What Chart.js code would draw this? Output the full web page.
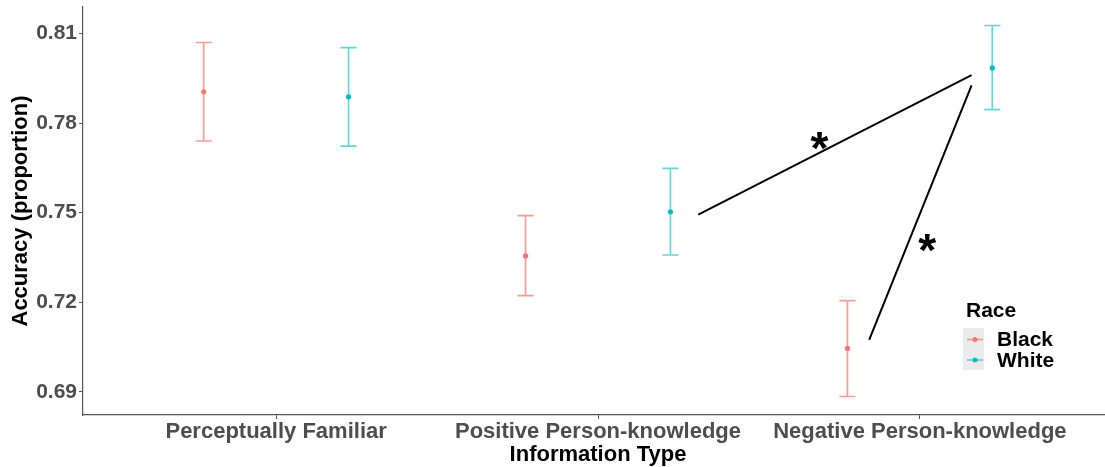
<!DOCTYPE html>
<html>
<head>
<meta charset="utf-8">
<script src="https://cdn.jsdelivr.net/npm/chart.js@4/dist/chart.umd.min.js"></script>
<style>
  html, body { margin: 0; padding: 0; overflow: hidden; background: #ffffff; }
  canvas { display: block; }
</style>
</head>
<body>
<canvas id="chart" width="1120" height="467"></canvas>
<script>
// Accuracy by information type and race (mean with error bars)
const categories = ['Perceptually Familiar', 'Positive Person-knowledge', 'Negative Person-knowledge'];
const races = ['Black', 'White'];

const blackMean  = [0.7905, 0.7355, 0.7045];
const blackLower = [0.7740, 0.7222, 0.6884];
const blackUpper = [0.8070, 0.7490, 0.7205];

const whiteMean  = [0.7888, 0.7503, 0.7985];
const whiteLower = [0.7723, 0.7358, 0.7845];
const whiteUpper = [0.8053, 0.7648, 0.8127];

const yTicks = [0.69, 0.72, 0.75, 0.78, 0.81];
const yTickLabels = ['0.69', '0.72', '0.75', '0.78', '0.81'];

// significance brackets (x in category units, y in accuracy) and their stars
const sigLineA = [{ x: 2.3115, y: 0.7493 }, { x: 3.1606, y: 0.7961 }];
const sigLineB = [{ x: 2.8425, y: 0.7074 }, { x: 3.1606, y: 0.7926 }];
const sigStars = [{ x: 2.688, y: 0.7740 }, { x: 3.023, y: 0.7397 }];

const DODGE = 0.225;
const CAP_HALF = 0.025;
const RED = '#F8766D';
const TEAL = '#00BFC4';
const RED_BAR = 'rgba(248,118,109,0.72)';
const TEAL_BAR = 'rgba(0,191,196,0.62)';
const FONT = '"Liberation Sans", Arial, Helvetica, sans-serif';

function pts(means, offset) {
  return means.map((m, i) => ({ x: i + 1 + offset, y: m }));
}

const errorBarPlugin = {
  id: 'errorBars',
  beforeDatasetsDraw(chart) {
    const { ctx, scales: { x, y } } = chart;
    const groups = [
      { mean: blackMean, lo: blackLower, hi: blackUpper, off: -DODGE, color: RED_BAR },
      { mean: whiteMean, lo: whiteLower, hi: whiteUpper, off: DODGE, color: TEAL_BAR }
    ];
    ctx.save();
    ctx.lineWidth = 1.7;
    groups.forEach(g => {
      ctx.strokeStyle = g.color;
      g.mean.forEach((m, i) => {
        const cx = i + 1 + g.off;
        const px = x.getPixelForValue(cx);
        const pl = x.getPixelForValue(cx - CAP_HALF);
        const pr = x.getPixelForValue(cx + CAP_HALF);
        const yl = y.getPixelForValue(g.lo[i]);
        const yh = y.getPixelForValue(g.hi[i]);
        ctx.beginPath();
        ctx.moveTo(px, yl); ctx.lineTo(px, yh);
        ctx.moveTo(pl, yl); ctx.lineTo(pr, yl);
        ctx.moveTo(pl, yh); ctx.lineTo(pr, yh);
        ctx.stroke();
      });
    });
    ctx.restore();
  },
  afterDatasetsDraw(chart) {
    const { ctx, scales: { x, y } } = chart;
    ctx.save();
    ctx.fillStyle = '#000000';
    ctx.font = 'bold 46px ' + FONT;
    ctx.textAlign = 'left';
    ctx.textBaseline = 'alphabetic';
    sigStars.forEach(s => {
      const m = ctx.measureText('*');
      const gw = m.actualBoundingBoxRight + m.actualBoundingBoxLeft;
      const gh = m.actualBoundingBoxAscent + m.actualBoundingBoxDescent;
      const px = x.getPixelForValue(s.x) - gw / 2 + m.actualBoundingBoxLeft;
      const py = y.getPixelForValue(s.y) + gh / 2 - m.actualBoundingBoxDescent;
      ctx.fillText('*', px, py);
    });
    ctx.restore();
  },
  afterDraw(chart) {
    // legend placed inside the panel
    const ctx = chart.ctx;
    ctx.save();
    ctx.fillStyle = '#000000';
    ctx.font = 'bold 21px ' + FONT;
    ctx.textBaseline = 'middle';
    ctx.textAlign = 'left';
    ctx.fillText('Race', 966, 311);
    ctx.fillStyle = '#EBEBEB';
    ctx.fillRect(963, 328, 21, 42);
    const keys = [{ label: races[0], bar: RED_BAR, dot: RED, cy: 339.5 },
                  { label: races[1], bar: TEAL_BAR, dot: TEAL, cy: 360 }];
    keys.forEach(k => {
      ctx.strokeStyle = k.bar;
      ctx.lineWidth = 1.6;
      ctx.beginPath();
      ctx.moveTo(967, k.cy); ctx.lineTo(983, k.cy);
      ctx.stroke();
      ctx.fillStyle = k.dot;
      ctx.beginPath();
      ctx.arc(975, k.cy, 2.5, 0, Math.PI * 2);
      ctx.fill();
      ctx.fillStyle = '#000000';
      ctx.font = 'bold 21px ' + FONT;
      ctx.fillText(k.label, 997, k.cy + 1);
    });
    ctx.restore();
  }
};

new Chart(document.getElementById('chart'), {
  type: 'scatter',
  data: {
    datasets: [
      { label: races[0], data: pts(blackMean, -DODGE), backgroundColor: RED, borderColor: RED,
        pointRadius: 2.6, pointBorderWidth: 0 },
      { label: races[1], data: pts(whiteMean, DODGE), backgroundColor: TEAL, borderColor: TEAL,
        pointRadius: 2.6, pointBorderWidth: 0 },
      { type: 'line', label: 'sigA', data: sigLineA, borderColor: '#000000', borderWidth: 2,
        pointRadius: 0, fill: false, showLine: true },
      { type: 'line', label: 'sigB', data: sigLineB, borderColor: '#000000', borderWidth: 2,
        pointRadius: 0, fill: false, showLine: true }
    ]
  },
  options: {
    responsive: false,
    devicePixelRatio: 1,
    animation: false,
    layout: { padding: { top: 7, right: 7, left: 0, bottom: 0 } },
    plugins: { legend: { display: false }, tooltip: { enabled: false } },
    scales: {
      x: {
        type: 'linear', min: 0.4, max: 3.6,
        afterBuildTicks: s => { s.ticks = categories.map((c, i) => ({ value: i + 1 })); },
        afterFit: s => { s.height = 52; s.paddingLeft = 0; s.paddingRight = 0; },
        ticks: {
          callback: (v, i) => categories[i],
          color: '#4D4D4D', font: { family: FONT, size: 22, weight: 'bold' },
          padding: 0, maxRotation: 0, autoSkip: false
        },
        grid: { display: true, drawOnChartArea: false, drawTicks: true, tickLength: 4, color: '#555555' },
        border: { display: true, color: '#555555', width: 1.2 },
        title: { display: true, text: 'Information Type', color: '#000000',
                 font: { family: FONT, size: 22, weight: 'bold', lineHeight: 1 }, padding: { top: 0, bottom: 1 } }
      },
      y: {
        type: 'linear', min: 0.6822, max: 0.8189,
        afterBuildTicks: s => { s.ticks = yTicks.map(v => ({ value: v })); },
        afterFit: s => { s.width = 83; s.paddingTop = 0; s.paddingBottom = 0; },
        ticks: {
          callback: (v, i) => yTickLabels[i],
          color: '#4D4D4D', font: { family: FONT, size: 21, weight: 'bold' }, padding: 2
        },
        grid: { display: true, drawOnChartArea: false, drawTicks: true, tickLength: 4, color: '#555555' },
        border: { display: true, color: '#555555', width: 1.2 },
        title: { display: true, text: 'Accuracy (proportion)', color: '#000000',
                 font: { family: FONT, size: 22, weight: 'bold', lineHeight: 1.2 }, padding: { top: 8, bottom: 0 } }
      }
    }
  },
  plugins: [errorBarPlugin]
});
</script>
</body>
</html>
